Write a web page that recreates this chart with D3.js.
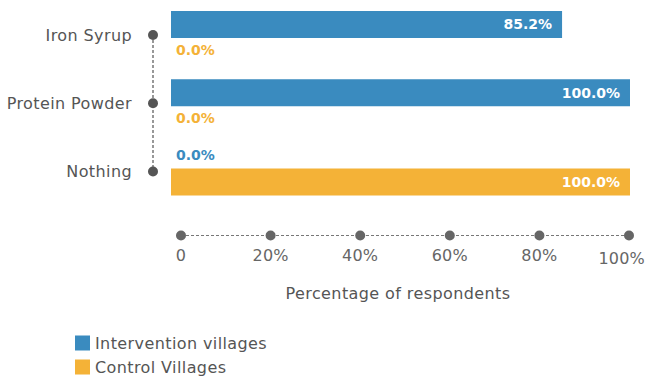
<!DOCTYPE html>
<html>
<head>
<meta charset="utf-8">
<script src="https://cdn.jsdelivr.net/npm/d3@7"></script>
<style>
    body { margin: 0; background: #fff; }
    svg { display: block; font-family: "DejaVu Sans", sans-serif; }
    .cat-label { fill: #555; font-size: 16px; letter-spacing: 0.4px; }
    .tick-label { fill: #666; font-size: 16px; letter-spacing: 0.2px; }
    .axis-title { fill: #555; font-size: 16px; letter-spacing: 0.4px; }
    .legend-label { fill: #555; font-size: 16px; letter-spacing: 0.4px; }
    .value-label { font-size: 14px; font-weight: 700; }
</style>
</head>
<body>
<div id="chart"></div>
<script>
    // Chart data
const categories = ["Iron Syrup", "Protein Powder", "Nothing"];
const seriesNames = ["Intervention villages", "Control Villages"];
const intervention = [85.2, 100.0, 0.0];
const control = [0.0, 0.0, 100.0];
const tickValues = [0, 20, 40, 60, 80, 100];
const tickLabels = ["0", "20%", "40%", "60%", "80%", "100%"];
const colors = ["#3a8bbf", "#f4b237"];

const width = 650;
const height = 376;

const svg = d3.select("#chart")
    .append("svg")
    .attr("width", width)
    .attr("height", height);

    // Bars run from 171 to 630; the axis dots sit a little to the right.
const x = d3.scaleLinear().domain([0, 100]).range([171, 630]);
const xAxis = d3.scaleLinear().domain([0, 100]).range([181, 629]);

    // Category centres (the dots on the left guide line).
const y = d3.scalePoint().domain(categories).range([35, 171.5]);

const barH = 27;
    // offset of each series' bar top from the category centre
const barOffset = [-24, -3];
    // where a 0 value label sits relative to the centre
const zeroOffset = [-16, 15];

const values = [intervention, control];

    // Left dashed guide and category dots
svg.append("line")
    .attr("x1", 153).attr("x2", 153)
    .attr("y1", y(categories[0])).attr("y2", y(categories[categories.length - 1]))
    .attr("stroke", "#777")
    .attr("stroke-width", 1.5)
    .attr("stroke-dasharray", "3,2");

svg.selectAll(".cat-dot")
    .data(categories)
    .join("circle")
    .attr("class", "cat-dot")
    .attr("cx", 153)
    .attr("cy", d => y(d))
    .attr("r", 5)
    .attr("fill", "#555");

svg.selectAll(".cat-label")
    .data(categories)
    .join("text")
    .attr("class", "cat-label")
    .attr("x", 132)
    .attr("y", d => y(d))
    .attr("dy", "0.35em")
    .attr("text-anchor", "end")
    .text(d => d);

    // Bars and value labels
const flat = [];
values.forEach((vals, s) => {
    vals.forEach((v, i) => flat.push({ s, cat: categories[i], v }));
});

svg.selectAll(".bar")
    .data(flat)
    .join("rect")
    .attr("class", "bar")
    .attr("x", x(0))
    .attr("y", d => y(d.cat) + barOffset[d.s])
    .attr("width", d => x(d.v) - x(0))
    .attr("height", barH)
    .attr("fill", d => colors[d.s]);

svg.selectAll(".value-label")
    .data(flat)
    .join("text")
    .attr("class", "value-label")
    .attr("x", d => d.v > 0 ? x(d.v) - 10 : x(0) + 5)
    .attr("y", d => d.v > 0 ? y(d.cat) + barOffset[d.s] + barH / 2 : y(d.cat) + zeroOffset[d.s])
    .attr("dy", "0.35em")
    .attr("text-anchor", d => d.v > 0 ? "end" : "start")
    .attr("fill", d => d.v > 0 ? "#fff" : colors[d.s])
    .text(d => d.v.toFixed(1) + "%");

    // Bottom axis: dashed line with dots at each tick
const axisY = 235.5;
svg.append("line")
    .attr("x1", xAxis(0)).attr("x2", xAxis(100))
    .attr("y1", axisY).attr("y2", axisY)
    .attr("stroke", "#777")
    .attr("stroke-width", 1)
    .attr("stroke-dasharray", "3,2");

svg.selectAll(".tick-dot")
    .data(tickValues)
    .join("circle")
    .attr("class", "tick-dot")
    .attr("cx", d => xAxis(d))
    .attr("cy", axisY)
    .attr("r", 5)
    .attr("fill", "#666");

    // the last label is pulled in so it stays inside the frame
const lastTick = tickValues.length - 1;
svg.selectAll(".tick-label")
    .data(tickValues)
    .join("text")
    .attr("class", "tick-label")
    .attr("x", (d, i) => i === lastTick ? 645 : xAxis(d))
    .attr("y", (d, i) => i === lastTick ? 258 : 255)
    .attr("dy", "0.35em")
    .attr("text-anchor", (d, i) => i === lastTick ? "end" : "middle")
    .text((d, i) => tickLabels[i]);

svg.append("text")
    .attr("class", "axis-title")
    .attr("x", 398)
    .attr("y", 293)
    .attr("dy", "0.35em")
    .attr("text-anchor", "middle")
    .text("Percentage of respondents");

    // Legend
const legend = svg.selectAll(".legend")
    .data(seriesNames)
    .join("g")
    .attr("class", "legend")
    .attr("transform", (d, i) => `translate(75, ${335.5 + i * 24})`);

legend.append("rect")
    .attr("width", 15)
    .attr("height", 15)
    .attr("fill", (d, i) => colors[i]);

legend.append("text")
    .attr("class", "legend-label")
    .attr("x", 20)
    .attr("y", 7.5)
    .attr("dy", "0.35em")
    .text(d => d);
</script>
</body>
</html>
